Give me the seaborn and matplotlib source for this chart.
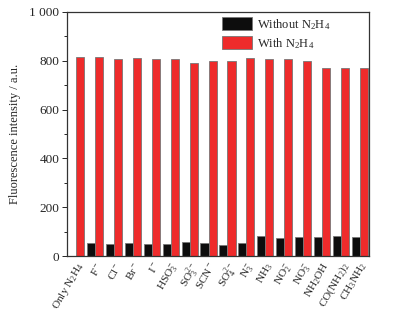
import matplotlib
matplotlib.use("Agg")
import matplotlib.pyplot as plt
import seaborn as sns
import pandas as pd
from matplotlib.patches import Patch
from matplotlib.ticker import MultipleLocator

categories = ["Only N$_2$H$_4$", "F$^-$", "Cl$^-$", "Br$^-$", "I$^-$", "HSO$_3^-$",
              "SO$_3^{2-}$", "SCN$^-$", "SO$_4^{2-}$", "N$_3^-$", "NH$_3$", "NO$_2^-$",
              "NO$_3^-$", "NH$_2$OH", "CO(NH$_2$)$_2$", "CH$_3$NH$_2$"]
without_n2h4 = [2, 54, 51, 54, 51, 49, 57, 54, 47, 54, 81, 76, 78, 78, 81, 78]
with_n2h4 = [817, 815, 808, 812, 808, 805, 789, 797, 799, 810, 805, 808, 800, 770, 770, 770]
series_names = ["Without N$_2$H$_4$", "With N$_2$H$_4$"]
ytick_vals = [0, 200, 400, 600, 800, 1000]
ytick_labels = ["0", "200", "400", "600", "800", "1 000"]

df = pd.DataFrame({
    "cat": categories * 2,
    "val": without_n2h4 + with_n2h4,
    "series": [series_names[0]] * len(categories) + [series_names[1]] * len(categories),
})

sns.set_style("ticks")
plt.rcParams["font.family"] = ["Liberation Serif", "DejaVu Serif"]
plt.rcParams["mathtext.fontset"] = "custom"
plt.rcParams["mathtext.rm"] = "Liberation Serif"
plt.rcParams["mathtext.it"] = "Liberation Serif:italic"

colors = ["#0d0d0d", "#ee2b2b"]
fig = plt.figure(figsize=(4.03, 3.12), dpi=100)
ax = fig.add_axes([0.166, 0.179, 0.750, 0.783])
sns.barplot(data=df, x="cat", y="val", hue="series", hue_order=series_names,
            palette=colors, saturation=1, width=0.86, edgecolor="#777777",
            linewidth=0.6, ax=ax, legend=False)

ax.set_xlim(-0.5, len(categories) - 0.5)
ax.set_ylim(0, 1000)
ax.set_yticks(ytick_vals)
ax.set_yticklabels(ytick_labels, fontsize=9.5)
ax.yaxis.set_minor_locator(MultipleLocator(100))
ax.tick_params(axis="y", which="major", direction="out", length=3.5, width=0.7, pad=2)
ax.tick_params(axis="y", which="minor", direction="out", length=2, width=0.7)
ax.tick_params(axis="x", length=0, pad=3)
ax.set_xticks(range(len(categories)))
ax.set_xticklabels(categories, rotation=60, ha="right", va="top",
                   rotation_mode="anchor", fontsize=8.2)
ax.set_xlabel("")
ax.set_ylabel("Fluorescence intensity / a.u.", fontsize=9, labelpad=6)
for s in ax.spines.values():
    s.set_visible(True)
    s.set_color("#333333")
    s.set_linewidth(0.9)

handles = [Patch(facecolor=colors[0], edgecolor="#777777", linewidth=0.6),
           Patch(facecolor=colors[1], edgecolor="#777777", linewidth=0.6)]
ax.legend(handles, series_names, loc="upper left", bbox_to_anchor=(0.505, 0.99),
          frameon=False, fontsize=9, handlelength=2.4, handleheight=1.2,
          borderpad=0.2, borderaxespad=0, labelspacing=0.35, handletextpad=0.4)

fig.savefig("out.png", dpi=100)
